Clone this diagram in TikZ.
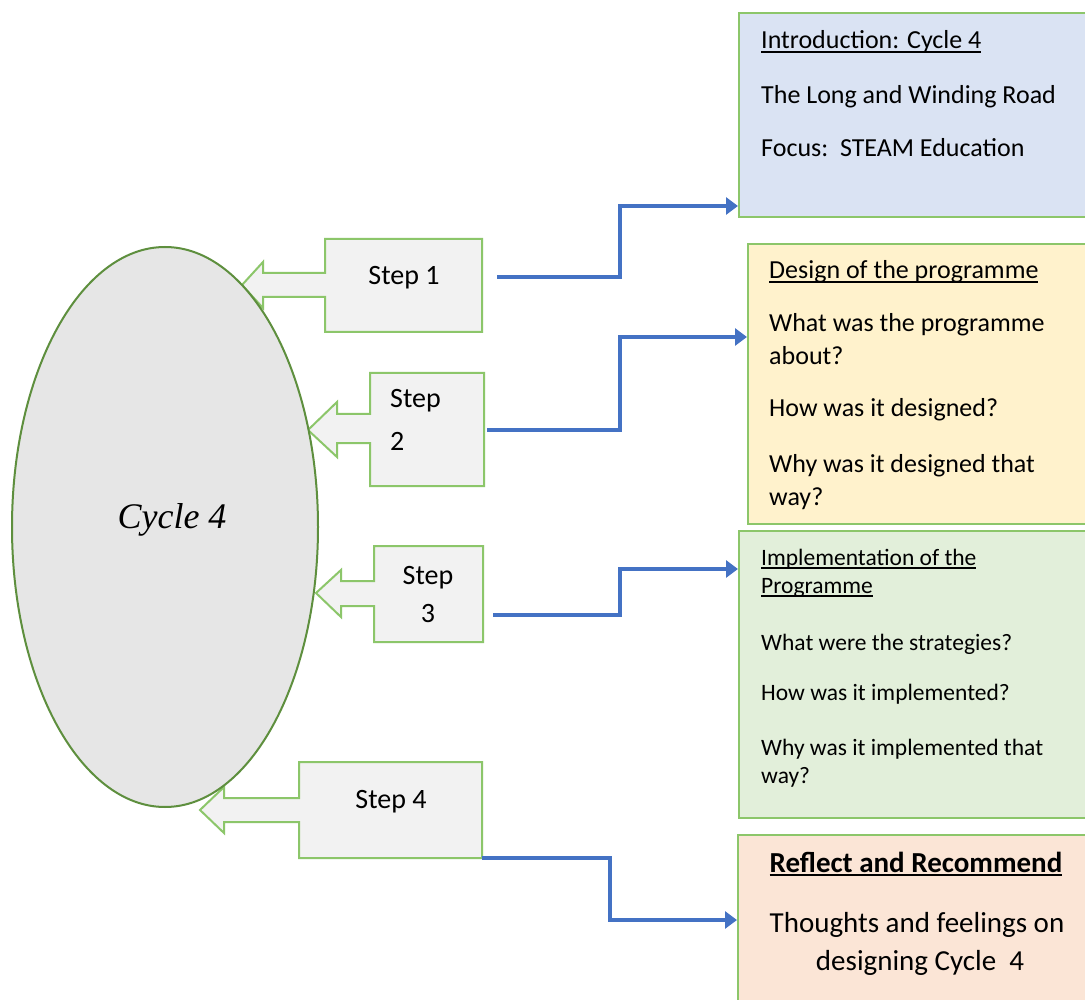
\documentclass[tikz,border=0pt]{standalone}
\usepackage{fontspec}
\setmainfont{Carlito}
\newfontfamily\handfont{Liberation Serif}
\usetikzlibrary{arrows.meta,shapes.geometric}

\definecolor{calloutfill}{HTML}{F2F2F2}
\definecolor{calloutline}{HTML}{8CC66A}
\definecolor{boxline}{HTML}{8CC66A}
\definecolor{ovalfill}{HTML}{E6E6E6}
\definecolor{ovalline}{HTML}{5E8F3E}
\definecolor{linkblue}{HTML}{4472C4}
\definecolor{introfill}{HTML}{DAE3F3}
\definecolor{designfill}{HTML}{FFF2CC}
\definecolor{implfill}{HTML}{E2EFDA}
\definecolor{reflfill}{HTML}{FBE5D6}

% underlined heading with a visible rule
\newcommand\headul[1]{\setbox0\hbox{#1}\rlap{\rule[-4pt]{\wd0}{1.6pt}}\box0}

\tikzset{
  callout/.style={fill=calloutfill, draw=calloutline, line width=2pt},
  infobox/.style={draw=boxline, line width=2pt, rectangle, inner sep=0pt, anchor=north west},
  link/.style={draw=linkblue, line width=4pt, -{Triangle[length=12pt,width=17pt]}},
  steptext/.style={font=\fontsize{28}{34}\selectfont, inner sep=0pt},
  bigtext/.style={font=\fontsize{26}{32}\selectfont, anchor=base west, inner sep=0pt},
  midtext/.style={font=\fontsize{23.5}{29}\selectfont, anchor=base west, inner sep=0pt},
  refltext/.style={font=\fontsize{29}{36}\selectfont, anchor=base, inner sep=0pt},
}

\begin{document}
\begin{tikzpicture}[x=1pt,y=-1pt]
  \useasboundingbox (0,0) rectangle (1085,1000);
  \fill[white] (0,0) rectangle (1085,1000);
  \clip (0,0) rectangle (1085,1000);

  % step callouts (box with a hollow arrow pointing left)
  \path[callout] (325,239) -- (482,239) -- (482,332) -- (325,332) -- (325,297)
    -- (263,297) -- (263,308) -- (242,285) -- (263,262) -- (263,273) -- (325,273) -- cycle;
  \path[callout] (370,373) -- (484,373) -- (484,486) -- (370,486) -- (370,443)
    -- (337,443) -- (337,457) -- (308,430) -- (337,402) -- (337,414) -- (370,414) -- cycle;
  \path[callout] (374,546) -- (483,546) -- (483,642) -- (374,642) -- (374,606)
    -- (341,606) -- (341,617) -- (316,593) -- (341,570) -- (341,581) -- (374,581) -- cycle;
  \path[callout] (299,762) -- (482,762) -- (482,858) coordinate (s4br) -- (299,858) -- (299,822)
    -- (224,822) -- (224,833) -- (200,810) -- (224,787) -- (224,798) -- (299,798) -- cycle;

  \node[steptext, anchor=base] (s1) at (404,285) {Step 1};
  \node[steptext, anchor=base west] (s2a) at (390,408) {Step};
  \node[steptext, anchor=base west] (s2b) at (390,450) {2};
  \node[steptext, anchor=base] (s3a) at (428,584) {Step};
  \node[steptext, anchor=base] (s3b) at (428,622) {3};
  \node[steptext, anchor=base] (s4) at (391,808) {Step 4};

  % central oval
  \node[ellipse, draw=ovalline, fill=ovalfill, line width=2pt, inner sep=0pt,
        minimum width=306pt, minimum height=560pt] (oval) at (165,527) {};
  \node[font=\handfont\itshape\fontsize{36}{40}\selectfont, anchor=base, inner sep=0pt]
    (cyc) at (172,528) {Cycle 4};

  % information boxes
  \node[infobox, fill=introfill, minimum width=352pt, minimum height=204pt] (intro) at (738,12) {};
  \node[infobox, fill=designfill, minimum width=343pt, minimum height=280pt] (design) at (747,243) {};
  \node[infobox, fill=implfill, minimum width=352pt, minimum height=287pt] (impl) at (738,530) {};
  \node[infobox, fill=reflfill, minimum width=353pt, minimum height=180pt] (refl) at (737,834) {};

  \node[bigtext] (i1) at (761,49) {\headul{Introduction: Cycle 4}};
  \node[bigtext] (i2) at (761,104) {The Long and Winding Road};
  \node[bigtext] (i3) at (761,157) {Focus:\ \ STEAM Education};

  \node[bigtext] (d1) at (769,279) {\headul{Design of the programme}};
  \node[bigtext] (d2) at (769,332) {What was the programme};
  \node[bigtext] (d3) at (769,365) {about?};
  \node[bigtext] (d4) at (769,417) {How was it designed?};
  \node[bigtext] (d5) at (769,472) {Why was it designed that};
  \node[bigtext] (d6) at (769,505) {way?};

  \node[midtext] (m1) at (761,565) {\headul{Implementation of the}};
  \node[midtext] (m2) at (761,593) {\headul{Programme}};
  \node[midtext] (m3) at (761,650) {What were the strategies?};
  \node[midtext] (m4) at (761,700) {How was it implemented?};
  \node[midtext] (m5) at (761,755) {Why was it implemented that};
  \node[midtext] (m6) at (761,783) {way?};

  \node[refltext] (r1) at (916,872) {\bfseries\headul{Reflect and Recommend}};
  \node[refltext] (r2) at (917,932) {Thoughts and feelings on};
  \node[refltext] (r3) at (920,970) {designing Cycle\ \ 4};

  % connectors from the steps to the boxes
  \coordinate (a1) at (497,277);
  \coordinate (k1) at (620,206);
  \draw[link] (a1) -| (k1) -- (k1 -| intro.west);

  \coordinate (a2) at (487,430);
  \coordinate (k2) at (620,337);
  \draw[link] (a2) -| (k2) -- (k2 -| design.west);

  \coordinate (a3) at (493,615);
  \coordinate (k3) at (620,569);
  \draw[link] (a3) -| (k3) -- (k3 -| impl.west);

  \coordinate (k4) at (610,920);
  \draw[link] (s4br) -| (k4) -- (k4 -| refl.west);
\end{tikzpicture}
\end{document}
